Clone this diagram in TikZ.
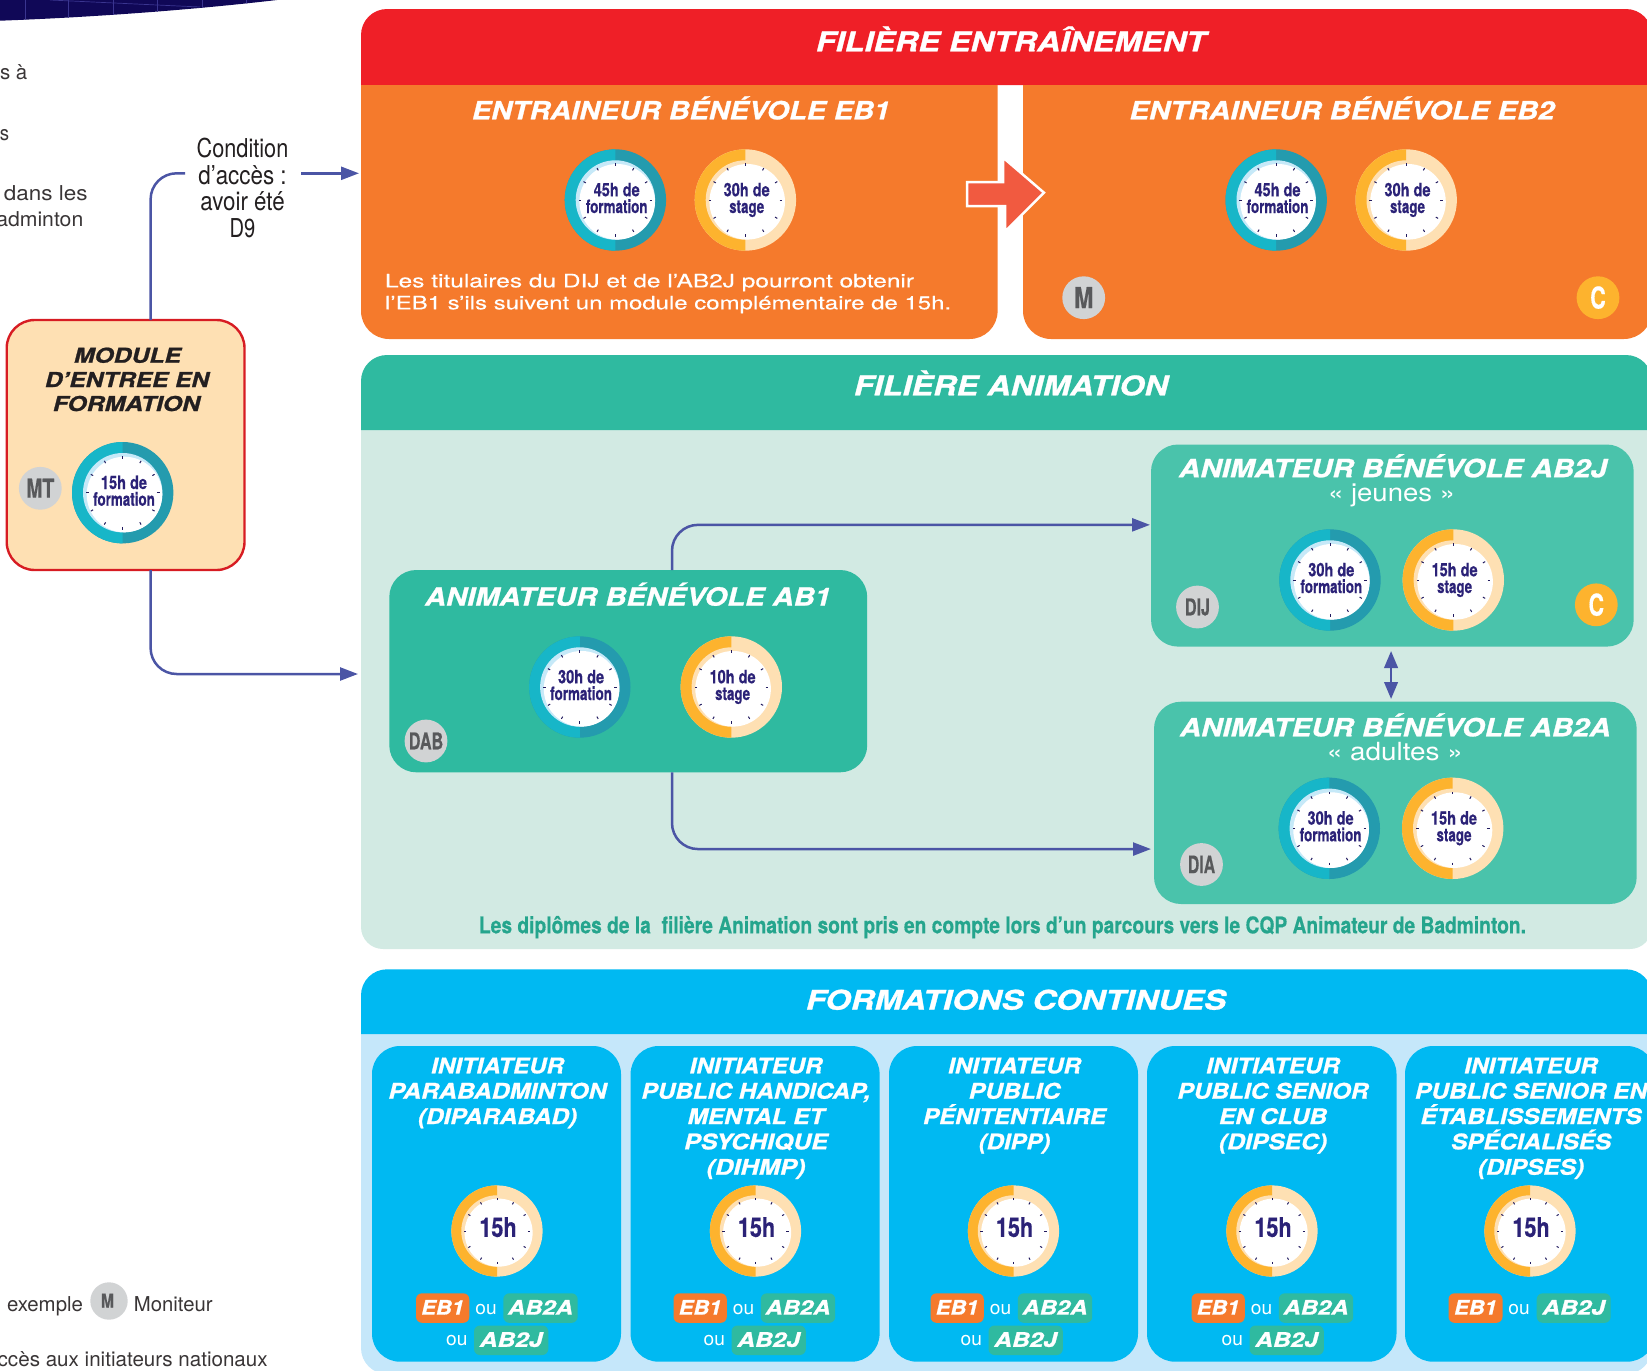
\documentclass[tikz,border=0pt]{standalone}
\usepackage{fontspec}
\usepackage{graphicx}
\setmainfont{TeX Gyre Heros}
\newfontfamily\heavyf[BoldItalicFeatures={FakeBold=1.0}]{TeX Gyre Heros}
\newfontfamily\condf[BoldFeatures={FakeBold=0.5}]{TeX Gyre Heros}
\newfontfamily\medf[FakeBold=0.3]{TeX Gyre Heros}
\usetikzlibrary{arrows.meta,calc}
\definecolor{cred}{HTML}{EF1F27}
\definecolor{corange}{HTML}{F57A2C}
\definecolor{cgreen}{HTML}{2FBAA0}
\definecolor{cgreenb}{HTML}{4AC3AB}
\definecolor{cgreenl}{HTML}{D2EAE3}
\definecolor{cblue}{HTML}{00B9F2}
\definecolor{cbluel}{HTML}{C5E7FA}
\definecolor{cring}{HTML}{17B6C8}
\definecolor{cringd}{HTML}{249BAE}
\definecolor{ccres}{HTML}{C6E9F8}
\definecolor{cgold}{HTML}{FDB32E}
\definecolor{cpale}{HTML}{FEE0B3}
\definecolor{cnavy}{HTML}{2B2277}
\definecolor{cline}{HTML}{4B55A5}
\definecolor{cgrey}{HTML}{D1D3D4}
\definecolor{cgreyt}{HTML}{58595B}
\definecolor{cink}{HTML}{231F20}
\definecolor{cbanner}{HTML}{100857}
\definecolor{cgrid}{HTML}{3A3590}
\definecolor{cnote}{HTML}{25A58D}
\definecolor{carrow}{HTML}{F15A40}
\newsavebox\fitbox
\newcounter{tln}
\newcommand\fitw[2]{\sbox\fitbox{#2}\pgfmathsetmacro\fitr{#1/\the\wd\fitbox}\scalebox{\fitr}[1]{\usebox\fitbox}}
\newcommand\tline[5]{\stepcounter{tln}\node[linetext,#1] (tl\arabic{tln}) at (#2,#3) {\fitw{#4}{#5}};}
\newcommand\rbox[6]{\pgfmathsetmacro\myrx{(#2+#4)/2}\pgfmathsetmacro\myry{(#3+#5)/2}\pgfmathsetmacro\myrw{#4-#2}\pgfmathsetmacro\myrh{#5-#3}%
\node[#6,minimum width=\myrw pt,minimum height=\myrh pt,inner sep=0pt,outer sep=0pt] (#1) at (\myrx,\myry) {};}
\newcommand\gaugec[6]{\begin{scope}[shift={(#1,#2)},scale=#3]
\fill[#5] (0,0) circle[radius=50.7pt];
\begin{scope}\clip (-52,-52) rectangle (0,52); \fill[#4] (0,0) circle[radius=50.7pt];\end{scope}
\fill[#6] (0,0) circle[radius=39.7pt];
\fill[white] (1.8,1.8) circle[radius=37.8pt];
\foreach \a in {0,30,...,330} \draw[ticksty] (\a:34.2pt) -- (\a:36.8pt);
\end{scope}}
\newcommand\gform[3]{\gaugec{#1}{#2}{1}{cring}{cringd}{ccres}%
\pgfmathsetmacro\gx{#1+1.3}\pgfmathsetmacro\gya{#2-3.7}\pgfmathsetmacro\gyb{#2+13}%
\tline{gaugetext}{\gx}{\gya}{46}{#3}\tline{gaugetext}{\gx}{\gyb}{61.7}{formation}}
\newcommand\gstage[3]{\gaugec{#1}{#2}{1}{cgold}{cpale}{cpale}%
\pgfmathsetmacro\gx{#1+1.3}\pgfmathsetmacro\gya{#2-3.7}\pgfmathsetmacro\gyb{#2+13}%
\tline{gaugetext}{\gx}{\gya}{46}{#3}\tline{gaugetext}{\gx}{\gyb}{35}{stage}}
\newcommand\gshort[1]{\gaugec{#1}{1231}{0.9}{cgold}{cpale}{cpale}%
\pgfmathsetmacro\gx{#1+1}\tline{gaugetext,font=\condf\fontsize{27}{30}\selectfont\bfseries}{\gx}{1236.9}{37.3}{15h}}
\newcommand\badgec[8]{\fill[#4] (#2,#3) circle[radius=21.4pt];\pgfmathsetmacro\by{#3+#7*0.36}%
\node[linetext,text=#5,font=\condf\fontsize{#7}{#7}\selectfont\bfseries] (#1) at (#2,\by) {\fitw{#8}{#6}};}
\newcommand\ctitle[4]{\pgfmathsetmacro\cty{1073.3+#2*25.35}\pgfmathsetmacro\ctx{#1+1}\tline{cardhead}{\ctx}{\cty}{#3}{#4}}
\newcommand\pillc[7]{\pgfmathsetmacro\pa{#2+#3}\pgfmathsetmacro\pb{#2+#4}\pgfmathsetmacro\pc{#5+29.5}%
\rbox{pill\arabic{tln}x}{\pa}{#5}{\pb}{\pc}{pillsty,fill=#1}%
\pgfmathsetmacro\px{#2+(#3+#4)/2}\pgfmathsetmacro\py{#5+21.3}\tline{pilltext}{\px}{\py}{#6}{#7}}
\newcommand\outext[3]{\pgfmathsetmacro\ox{#1+#2}\tline{outext}{\ox}{#3}{21.3}{ou}}
\newcommand\cardrow[1]{\pillc{corange}{#1}{-80.5}{-27.2}{1293.3}{42.7}{EB1}\outext{#1}{-10.5}{1314.3}%
\pillc{cgreen}{#1}{6.8}{81.2}{1293.3}{65}{AB2A}\outext{#1}{-39.7}{1345.7}%
\pillc{cgreen}{#1}{-22.5}{51.8}{1325.5}{62.7}{AB2J}}
\tikzset{
 linetext/.style={anchor=base,inner sep=0pt,outer sep=0pt},
 bandhead/.style={text=white,font=\heavyf\fontsize{27}{30}\selectfont\bfseries\itshape},
 boxhead/.style={text=white,font=\heavyf\fontsize{25}{28}\selectfont\bfseries\itshape},
 cardhead/.style={text=white,font=\heavyf\fontsize{21.5}{25}\selectfont\bfseries\itshape},
 modhead/.style={text=cink,font=\heavyf\fontsize{20.5}{24}\selectfont\bfseries\itshape},
 bodytext/.style={text=white,font=\medf\fontsize{18.5}{22}\selectfont},
 subtext/.style={text=white,font=\fontsize{25}{28}\selectfont},
 gaugetext/.style={text=cnavy,font=\condf\fontsize{18.5}{20}\selectfont\bfseries},
 pilltext/.style={text=white,font=\heavyf\fontsize{20}{22}\selectfont\bfseries\itshape},
 outext/.style={text=white,font=\fontsize{19}{22}\selectfont},
 condtext/.style={text=cink,font=\fontsize{26}{28}\selectfont},
 sidetext/.style={text=cink!90,font=\fontsize{20.5}{24}\selectfont},
 notetext/.style={text=cnote,font=\condf\fontsize{23}{25}\selectfont\bfseries},
 ticksty/.style={draw=cnavy!80!black,line width=1pt},
 conn/.style={draw=cline,line width=2.5pt,rounded corners=26pt},
 tip/.style={-{Triangle[length=18pt,width=13pt]}},
 dbl/.style={draw=cline,line width=2.5pt,{Triangle[length=17pt,width=13.5pt]}-{Triangle[length=17pt,width=13.5pt]}},
 rcard/.style={fill=cblue,rounded corners=28pt},
 rgreen/.style={fill=cgreen,rounded corners=27pt},
 rgreenb/.style={fill=cgreenb,rounded corners=27pt},
 pillsty/.style={rounded corners=6pt},
 modbox/.style={draw=cred!90!black,line width=2.4pt,fill=cpale,rounded corners=28pt}
}
\begin{document}
\begin{tikzpicture}[x=1pt,y=-1pt]
\useasboundingbox (0,0) rectangle (1647,1371);
\begin{scope}
\clip (0,0) rectangle (1647,1371);
% top-left banner
\begin{scope}
\clip (0,0) -- (0,20.7) .. controls (100,17) and (200,9) .. (277,0) -- cycle;
\fill[cbanner] (0,0) rectangle (280,22);
\foreach \gxx in {25,68,113,157,202,246} \draw[cgrid,line width=0.7pt] (\gxx,0) -- (\gxx,22);
\draw[cgrid,line width=0.7pt] (50,0) -- (200,7);
\end{scope}
% entrainement
\fill[cred] (361,85) [rounded corners=26pt] -- (361,9) -- (1652,9) [sharp corners] -- (1652,85) -- cycle;
\fill[corange] (361,85) [rounded corners=28pt] -- (361,339) -- (997.6,339) [sharp corners] -- (997.6,85) -- cycle;
\fill[corange] (1023,85) [rounded corners=28pt] -- (1023,339) -- (1652,339) [sharp corners] -- (1652,85) -- cycle;
\tline{bandhead}{1011}{51.3}{390}{FILIÈRE ENTRAÎNEMENT}
\tline{boxhead}{681}{119.3}{418}{ENTRAINEUR BÉNÉVOLE EB1}
\tline{boxhead}{1342}{119.3}{425}{ENTRAINEUR BÉNÉVOLE EB2}
\gform{615.4}{200}{45h de}
\gstage{745.4}{200}{30h de}
\gform{1276.2}{200}{45h de}
\gstage{1406.2}{200}{30h de}
\tline{bodytext}{649.5}{287.3}{529}{Les titulaires du DIJ et de l’AB2J pourront obtenir}
\tline{bodytext}{668.1}{309.3}{566}{l’EB1 s’ils suivent un module complémentaire de 15h.}
\badgec{bM}{1083.7}{297.7}{cgrey}{cgreyt}{M}{29}{19.4}
\badgec{bC}{1598}{297.7}{cgold}{white}{C}{30}{15.5}
\fill[carrow,draw=white,line width=2.5pt,line join=miter] (967,182) -- (1003,182) -- (1003,157.5) -- (1044,192.7) -- (1005,231.5) -- (1005,206) -- (967,206) -- cycle;
% animation
\fill[cgreenl] (361,430) [rounded corners=22pt] -- (361,949) -- (1652,949) [sharp corners] -- (1652,430) -- cycle;
\fill[cgreen] (361,430) [rounded corners=26pt] -- (361,355) -- (1652,355) [sharp corners] -- (1652,430) -- cycle;
\tline{bandhead}{1011}{395.3}{314}{FILIÈRE ANIMATION}
\rbox{ab1}{389.3}{570}{867.2}{772.3}{rgreen}
\rbox{ab2j}{1151}{444.5}{1633.7}{646.6}{rgreenb}
\rbox{ab2a}{1154}{701.7}{1636.7}{904}{rgreenb}
\tline{boxhead}{628}{605.6}{406}{ANIMATEUR BÉNÉVOLE AB1}
\gform{579.8}{687}{30h de}
\gstage{731.3}{687}{10h de}
\badgec{bDAB}{426}{741}{cgrey}{cgreyt}{DAB}{23}{34.4}
\tline{boxhead}{1393}{477.2}{428}{ANIMATEUR BÉNÉVOLE AB2J}
\tline{subtext}{1391.6}{501.4}{127}{« jeunes »}
\gform{1330}{580}{30h de}
\gstage{1453.3}{580}{15h de}
\badgec{bDIJ}{1197.5}{607}{cgrey}{cgreyt}{DIJ}{23}{25}
\badgec{bC2}{1596.3}{604.8}{cgold}{white}{C}{30}{15.5}
\tline{boxhead}{1395.3}{736.3}{430.7}{ANIMATEUR BÉNÉVOLE AB2A}
\tline{subtext}{1394.8}{760.3}{136}{« adultes »}
\gform{1329.3}{828.3}{30h de}
\gstage{1452.7}{828.3}{15h de}
\badgec{bDIA}{1201.5}{864.5}{cgrey}{cgreyt}{DIA}{24}{27.3}
\tline{notetext}{1002.5}{933.3}{1047}{Les diplômes de la~ filière Animation sont pris en compte lors d’un parcours vers le CQP Animateur de Badminton.}
% formations continues
\fill[cbluel] (361,1034) [rounded corners=26pt] -- (361,1374) -- (1652,1374) [sharp corners] -- (1652,1034) -- cycle;
\fill[cblue] (361,1034) [rounded corners=26pt] -- (361,969.3) -- (1652,969.3) [sharp corners] -- (1652,1034) -- cycle;
\tline{bandhead}{1016}{1009.6}{420}{FORMATIONS CONTINUES}
\rbox{card1}{372}{1046}{621}{1361.7}{rcard}
\rbox{card2}{630.6}{1046}{879.6}{1361.7}{rcard}
\rbox{card3}{889}{1046}{1138}{1361.7}{rcard}
\rbox{card4}{1147}{1046}{1396.5}{1361.7}{rcard}
\rbox{card5}{1405}{1046}{1655}{1361.7}{rcard}
\ctitle{496.5}{0}{132.7}{INITIATEUR}
\ctitle{496.5}{1}{218}{PARABADMINTON}
\ctitle{496.5}{2}{159}{(DIPARABAD)}
\ctitle{755}{0}{132.7}{INITIATEUR}
\ctitle{755}{1}{229}{PUBLIC HANDICAP,}
\ctitle{755}{2}{136.7}{MENTAL ET}
\ctitle{755}{3}{143.7}{PSYCHIQUE}
\ctitle{755}{4}{98.8}{(DIHMP)}
\ctitle{1013.5}{0}{132.7}{INITIATEUR}
\ctitle{1013.5}{1}{91.4}{PUBLIC}
\ctitle{1013.5}{2}{182.8}{PÉNITENTIAIRE}
\ctitle{1013.5}{3}{71.4}{(DIPP)}
\ctitle{1272}{0}{133.5}{INITIATEUR}
\ctitle{1272}{1}{191}{PUBLIC SENIOR}
\ctitle{1272}{2}{108}{EN CLUB}
\ctitle{1272}{3}{108}{(DIPSEC)}
\ctitle{1530}{0}{133.5}{INITIATEUR}
\ctitle{1530}{1}{232}{PUBLIC SENIOR EN}
\ctitle{1530}{2}{221}{ÉTABLISSEMENTS}
\ctitle{1530}{3}{160}{SPÉCIALISÉS}
\ctitle{1530}{4}{106}{(DIPSES)}
\gshort{497}
\gshort{755.5}
\gshort{1013.5}
\gshort{1272}
\gshort{1530}
\cardrow{496.5}
\cardrow{754}
\cardrow{1011}
\cardrow{1272}
\pillc{corange}{1530}{-81.5}{-27.5}{1293.3}{42.7}{EB1}
\outext{1530}{-11}{1314.3}
\pillc{cgreen}{1530}{6.7}{80.7}{1293.3}{62.7}{AB2J}
% module
\rbox{module}{6.7}{320}{244.5}{570}{modbox}
\tline{modhead}{127.5}{362.7}{107}{MODULE}
\tline{modhead}{127}{387}{164}{D’ENTREE EN}
\tline{modhead}{126.5}{411}{147}{FORMATION}
\badgec{bMT}{40.3}{488.3}{cgrey}{cgreyt}{MT}{26}{28}
\gform{122.7}{492.7}{15h de}
% condition
\tline{condtext}{242.5}{157.3}{91.7}{Condition}
\tline{condtext}{242.5}{184}{88.3}{d’accès :}
\tline{condtext}{242.5}{210.7}{84.3}{avoir été}
\tline{condtext}{242.5}{237.7}{25.7}{D9}
\coordinate (condL) at (185,173.3);
\coordinate (condR) at (301,173.3);
\coordinate (eb1in) at (359,173.3);
\coordinate (anin) at (358,674);
% connectors
\draw[conn] ($(module.north)+(25,0)$) |- (condL);
\draw[conn,tip] (condR) -- (eb1in);
\draw[conn,tip] ($(module.south)+(25,0)$) |- (anin);
\draw[conn,tip] ($(ab1.north)+(43.75,0)$) |- ($(ab2j.west)+(-1,-20.7)$);
\draw[conn,tip] ($(ab1.south)+(43.75,0)$) |- ($(ab2a.west)+(-3,46.2)$);
\draw[dbl] ($(ab2j.south)+(-1.3,4.4)$) -- ($(ab2a.north)+(-4.3,-2.7)$);
% left side text fragments
\tline{sidetext,anchor=base east}{27.3}{79}{27.3}{s à}
\tline{sidetext,anchor=base east}{9.3}{140}{9.3}{s}
\tline{sidetext}{45.8}{200}{83.7}{dans les}
\tline{sidetext,anchor=base east}{83.3}{226.7}{87}{adminton}
\tline{sidetext}{45}{1311}{76}{exemple}
\fill[cgrey] (109,1301) circle[radius=18.7pt];
\node[linetext,text=cgreyt,font=\condf\fontsize{19}{19}\selectfont\bfseries] (bMleg) at (107.5,1307.5) {\fitw{13}{M}};
\tline{sidetext}{173.3}{1311}{78.7}{Moniteur}
\tline{sidetext,anchor=base east}{267.7}{1366.7}{270}{ccès aux initiateurs nationaux}
\end{scope}
\end{tikzpicture}
\end{document}
